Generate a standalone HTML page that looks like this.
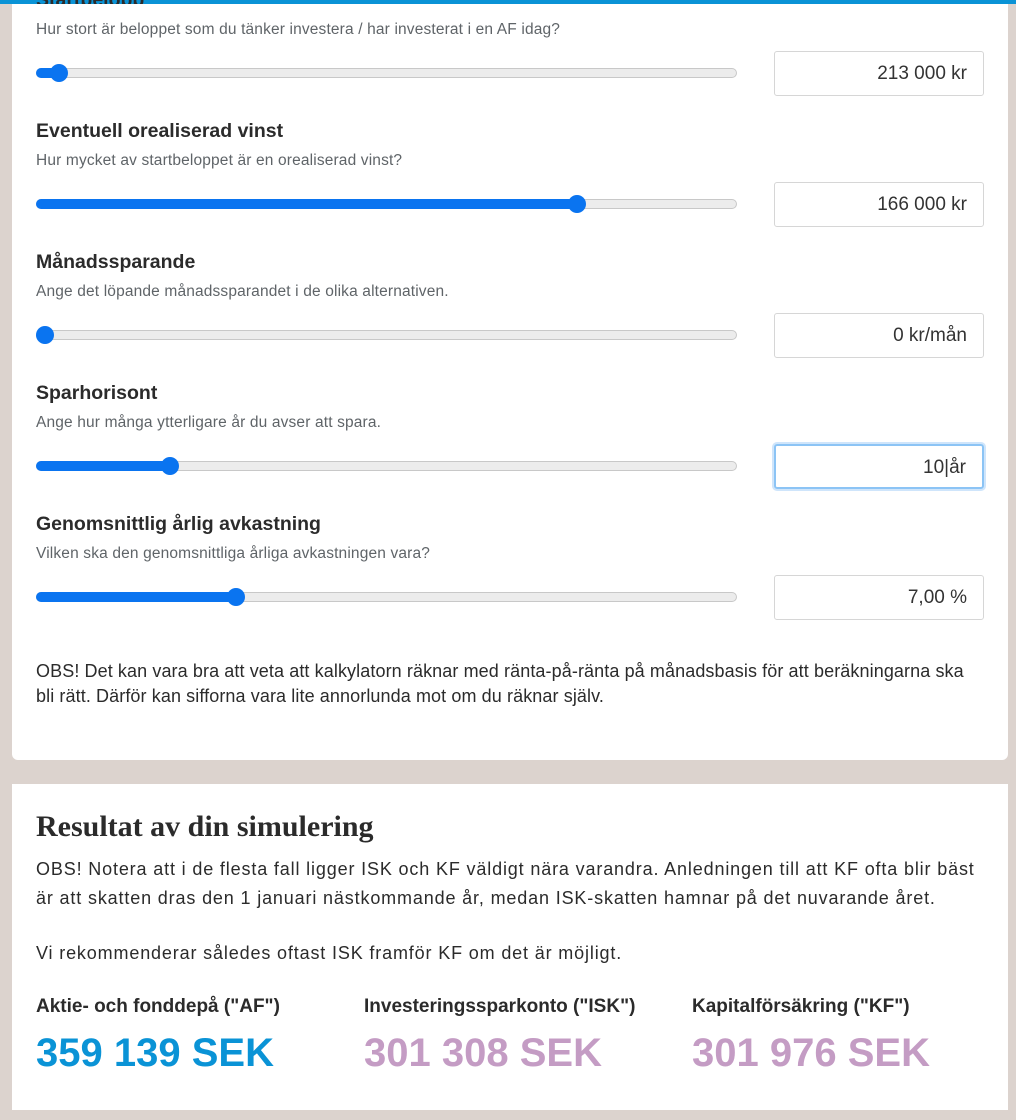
<!DOCTYPE html>
<html><head><meta charset="utf-8"><style>
*{margin:0;padding:0;box-sizing:border-box}
body{width:1016px;height:1120px;background:#dcd3ce;position:relative;overflow:hidden;font-family:"Liberation Sans",sans-serif;color:#2b2b2b}
.card{position:absolute;left:12px;width:996px;background:#fff}
.a{position:absolute;white-space:nowrap}
.t{font-weight:bold;font-size:19.5px;color:#2b2b2b}
.d{font-size:15.5px;color:#5f6468;letter-spacing:0.15px}
.track{position:absolute;left:36px;width:701px;height:10px;border:1px solid #c8c8c8;background:#ececec;border-radius:5px}
.fill{position:absolute;left:36px;height:10px;background:#0a74f0;border-radius:5px}
.th{position:absolute;width:18px;height:18px;border-radius:50%;background:#0a74f0}
.in{position:absolute;left:774px;width:210px;height:45px;border:1px solid #d6d6d6;border-radius:3px;font-size:19px;color:#333;text-align:right;padding-right:16px;line-height:43px}
.p{font-size:18px;color:#2b2b2b}
</style></head><body>
<div class="card" style="top:0;height:760px;border-radius:0 0 6px 6px"></div>
<div style="position:absolute;left:0;top:0;width:1016px;height:4px;background:#0a93d6"></div>
<div class="a t" style="left:36px;top:-11px">Startbelopp</div>
<div style="position:absolute;left:12px;top:4px;width:996px;height:6px;background:#fff"></div>
<div class="a d" style="left:36px;top:21px">Hur stort är beloppet som du tänker investera / har investerat i en AF idag?</div>
<div class="track" style="top:68px"></div><div class="fill" style="top:68px;width:24px"></div><div class="th" style="left:50px;top:64px"></div>
<div class="in" style="top:51px">213 000 kr</div>

<div class="a t" style="left:36px;top:120px">Eventuell orealiserad vinst</div>
<div class="a d" style="left:36px;top:152px">Hur mycket av startbeloppet är en orealiserad vinst?</div>
<div class="track" style="top:199px"></div><div class="fill" style="top:199px;width:542px"></div><div class="th" style="left:568px;top:195px"></div>
<div class="in" style="top:182px">166 000 kr</div>

<div class="a t" style="left:36px;top:251px">Månadssparande</div>
<div class="a d" style="left:36px;top:283px">Ange det löpande månadssparandet i de olika alternativen.</div>
<div class="track" style="top:330px"></div><div class="th" style="left:36px;top:326px"></div>
<div class="in" style="top:313px">0 kr/mån</div>

<div class="a t" style="left:36px;top:382px">Sparhorisont</div>
<div class="a d" style="left:36px;top:414px">Ange hur många ytterligare år du avser att spara.</div>
<div class="track" style="top:461px"></div><div class="fill" style="top:461px;width:135px"></div><div class="th" style="left:161px;top:457px"></div>
<div class="in" style="top:444px;border:2px solid #8cc4f5;box-shadow:0 0 0 2px #cfe5fb">10|år</div>

<div class="a t" style="left:36px;top:513px">Genomsnittlig årlig avkastning</div>
<div class="a d" style="left:36px;top:545px">Vilken ska den genomsnittliga årliga avkastningen vara?</div>
<div class="track" style="top:592px"></div><div class="fill" style="top:592px;width:201px"></div><div class="th" style="left:227px;top:588px"></div>
<div class="in" style="top:575px">7,00 %</div>

<div class="a p" style="left:36px;top:661px;font-size:18px;letter-spacing:0.1px">OBS! Det kan vara bra att veta att kalkylatorn räknar med ränta-på-ränta på månadsbasis för att beräkningarna ska</div>
<div class="a p" style="left:36px;top:686px;font-size:18px;letter-spacing:0.1px">bli rätt. Därför kan sifforna vara lite annorlunda mot om du räknar själv.</div>

<div class="card" style="top:784px;height:326px"></div>
<div class="a" style="left:36px;top:810px;font-family:'Liberation Serif',serif;font-size:30px;font-weight:bold;color:#2b2b2b">Resultat av din simulering</div>
<div class="a p" style="left:36px;top:859px;letter-spacing:0.85px">OBS! Notera att i de flesta fall ligger ISK och KF väldigt nära varandra. Anledningen till att KF ofta blir bäst</div>
<div class="a p" style="left:36px;top:888px;letter-spacing:0.85px">är att skatten dras den 1 januari nästkommande år, medan ISK-skatten hamnar på det nuvarande året.</div>
<div class="a p" style="left:36px;top:943px;letter-spacing:0.85px">Vi rekommenderar således oftast ISK framför KF om det är möjligt.</div>
<div class="a p" style="left:36px;top:996px;font-weight:bold;font-size:19px">Aktie- och fonddepå ("AF")</div>
<div class="a p" style="left:364px;top:996px;font-weight:bold;font-size:19px">Investeringssparkonto ("ISK")</div>
<div class="a p" style="left:692px;top:996px;font-weight:bold;font-size:19px">Kapitalförsäkring ("KF")</div>
<div class="a" style="left:36px;top:1031px;font-size:40px;font-weight:bold;color:#0a93d6">359 139 SEK</div>
<div class="a" style="left:364px;top:1031px;font-size:40px;font-weight:bold;color:#c49cc4">301 308 SEK</div>
<div class="a" style="left:692px;top:1031px;font-size:40px;font-weight:bold;color:#c49cc4">301 976 SEK</div>
</body></html>
